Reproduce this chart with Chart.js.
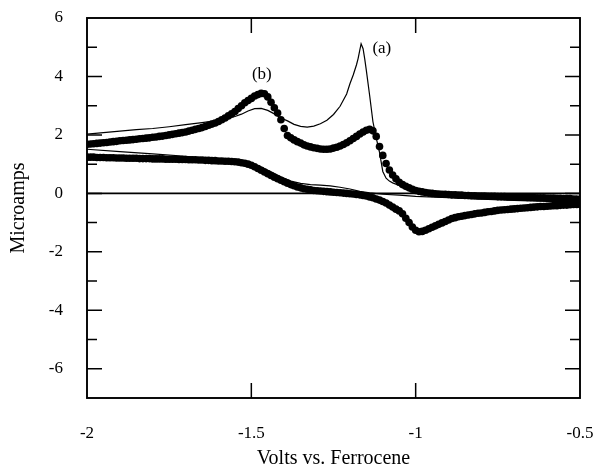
<!DOCTYPE html>
<html>
<head>
<meta charset="utf-8">
<script src="https://cdn.jsdelivr.net/npm/chart.js@4/dist/chart.umd.min.js"></script>
<style>
html,body{margin:0;padding:0;background:#fff;}
#wrap{width:596px;height:468px;position:relative;}
</style>
</head>
<body>
<div id="wrap"><canvas id="c"></canvas></div>
<script>
// ---- Data ----
const volts = [-2.00,-1.99,-1.98,-1.97,-1.96,-1.95,-1.94,-1.93,-1.92,-1.91,-1.90,-1.89,-1.88,-1.87,-1.86,-1.85,-1.84,-1.83,-1.82,-1.81,
-1.80,-1.79,-1.78,-1.77,-1.76,-1.75,-1.74,-1.73,-1.72,-1.71,-1.70,-1.69,-1.68,-1.67,-1.66,-1.65,-1.64,-1.63,-1.62,-1.61,
-1.60,-1.59,-1.58,-1.57,-1.56,-1.55,-1.54,-1.53,-1.52,-1.51,-1.50,-1.49,-1.48,-1.47,-1.46,-1.45,-1.44,-1.43,-1.42,-1.41,
-1.40,-1.39,-1.38,-1.37,-1.36,-1.35,-1.34,-1.33,-1.32,-1.31,-1.30,-1.29,-1.28,-1.27,-1.26,-1.25,-1.24,-1.23,-1.22,-1.21,
-1.20,-1.19,-1.18,-1.17,-1.16,-1.15,-1.14,-1.13,-1.12,-1.11,-1.10,-1.09,-1.08,-1.07,-1.06,-1.05,-1.04,-1.03,-1.02,-1.01,
-1.00,-0.99,-0.98,-0.97,-0.96,-0.95,-0.94,-0.93,-0.92,-0.91,-0.90,-0.89,-0.88,-0.87,-0.86,-0.85,-0.84,-0.83,-0.82,-0.81,
-0.80,-0.79,-0.78,-0.77,-0.76,-0.75,-0.74,-0.73,-0.72,-0.71,-0.70,-0.69,-0.68,-0.67,-0.66,-0.65,-0.64,-0.63,-0.62,-0.61,
-0.60,-0.59,-0.58,-0.57,-0.56,-0.55,-0.54,-0.53,-0.52,-0.51,-0.50];

// (b) experimental, forward (upper) branch
const bUpper = [1.68,1.69,1.70,1.71,1.72,1.73,1.74,1.76,1.77,1.78,1.80,1.81,1.82,1.83,1.84,1.85,1.87,1.88,1.89,1.90,
1.92,1.93,1.95,1.96,1.98,2.00,2.02,2.04,2.06,2.08,2.10,2.13,2.16,2.19,2.22,2.25,2.29,2.33,2.37,2.41,
2.46,2.52,2.58,2.65,2.72,2.80,2.90,3.00,3.10,3.18,3.25,3.33,3.38,3.42,3.41,3.30,3.12,2.93,2.75,2.52,
2.22,1.98,1.90,1.83,1.77,1.72,1.66,1.62,1.59,1.56,1.54,1.52,1.51,1.51,1.52,1.55,1.58,1.62,1.67,1.73,
1.80,1.88,1.95,2.03,2.10,2.16,2.19,2.14,1.95,1.60,1.30,1.02,0.80,0.63,0.50,0.38,0.30,0.24,0.19,0.14,
0.10,0.07,0.05,0.03,0.01,0.00,-0.01,-0.02,-0.03,-0.03,-0.04,-0.05,-0.05,-0.06,-0.06,-0.07,-0.07,-0.08,-0.08,-0.09,
-0.09,-0.09,-0.10,-0.10,-0.10,-0.11,-0.11,-0.11,-0.12,-0.12,-0.12,-0.13,-0.13,-0.13,-0.14,-0.14,-0.14,-0.15,-0.15,-0.15,
-0.16,-0.16,-0.16,-0.17,-0.17,-0.18,-0.18,-0.18,-0.19,-0.19,-0.20];

// (b) experimental, return (lower) branch
const bLower = [1.24,1.24,1.24,1.23,1.23,1.23,1.22,1.22,1.22,1.21,1.21,1.21,1.20,1.20,1.20,1.20,1.19,1.19,1.19,1.19,
1.18,1.18,1.18,1.18,1.17,1.17,1.17,1.17,1.16,1.16,1.16,1.15,1.15,1.15,1.14,1.14,1.13,1.13,1.12,1.12,
1.11,1.11,1.10,1.10,1.09,1.08,1.07,1.05,1.03,1.00,0.96,0.91,0.85,0.79,0.73,0.67,0.61,0.55,0.50,0.45,
0.40,0.35,0.30,0.26,0.22,0.19,0.16,0.14,0.12,0.10,0.09,0.08,0.07,0.06,0.05,0.04,0.03,0.02,0.01,0.00,
-0.01,-0.02,-0.04,-0.05,-0.07,-0.09,-0.12,-0.15,-0.19,-0.23,-0.28,-0.33,-0.40,-0.47,-0.54,-0.60,-0.70,-0.85,-1.00,-1.15,
-1.26,-1.31,-1.30,-1.26,-1.21,-1.16,-1.11,-1.06,-1.01,-0.96,-0.91,-0.86,-0.83,-0.80,-0.78,-0.76,-0.74,-0.72,-0.70,-0.68,
-0.67,-0.65,-0.63,-0.62,-0.60,-0.58,-0.57,-0.56,-0.55,-0.54,-0.53,-0.52,-0.51,-0.50,-0.49,-0.48,-0.47,-0.46,-0.45,-0.45,
-0.44,-0.43,-0.42,-0.42,-0.41,-0.40,-0.40,-0.39,-0.38,-0.38,-0.37];

// (a) thin curve, forward branch
const aUpperV = [-2.00,-1.95,-1.90,-1.85,-1.80,-1.75,-1.70,-1.65,-1.60,-1.57,-1.55,-1.53,-1.51,-1.49,-1.47,-1.45,-1.43,-1.41,-1.39,-1.37,
-1.35,-1.33,-1.31,-1.29,-1.27,-1.25,-1.23,-1.21,-1.20,-1.19,-1.18,-1.175,-1.17,-1.166,-1.16,-1.155,-1.15,-1.14,-1.13,-1.12,
-1.11,-1.10,-1.09,-1.08,-1.07,-1.05,-1.03,-1.01,-0.99,-0.95,-0.90,-0.80,-0.70,-0.60,-0.50];
const aUpperI = [2.03,2.08,2.13,2.18,2.22,2.28,2.35,2.42,2.50,2.57,2.63,2.71,2.82,2.90,2.91,2.84,2.72,2.58,2.48,2.36,
2.29,2.27,2.30,2.38,2.50,2.70,2.98,3.40,3.75,4.05,4.40,4.62,4.90,5.12,4.95,4.60,4.20,3.35,2.45,1.90,
1.40,0.75,0.52,0.42,0.36,0.27,0.20,0.12,0.06,0.01,-0.02,-0.06,-0.09,-0.12,-0.15];

// (a) thin curve, return branch
const aLowerV = [-2.00,-1.90,-1.80,-1.70,-1.65,-1.60,-1.55,-1.50,-1.47,-1.44,-1.41,-1.38,-1.35,-1.32,-1.29,-1.26,-1.23,-1.20,-1.17,-1.14,
-1.10,-1.05,-1.00,-0.90,-0.80,-0.70,-0.60,-0.50];
const aLowerI = [1.51,1.43,1.35,1.27,1.21,1.15,1.10,1.02,0.90,0.74,0.57,0.42,0.34,0.30,0.28,0.26,0.21,0.15,0.07,0.02,
-0.03,-0.06,-0.10,-0.15,-0.20,-0.24,-0.27,-0.30];

const xTicks = [-2, -1.5, -1, -0.5];
const yTicks = [-6, -4, -2, 0, 2, 4, 6];
const yMinorTicks = [-5, -3, -1, 1, 3, 5];
const curveLabels = [{text: '(a)', x: -1.103, y: 4.94}, {text: '(b)', x: -1.468, y: 4.05}];

// ---- Build datasets ----
const pts = (xs, ys) => xs.map((x, i) => ({x: x, y: ys[i]}));

const FONT = 'Liberation Serif';

const framePlugin = {
  id: 'frame',
  beforeDatasetsDraw(chart) {
    const {ctx, chartArea: a, scales: {x, y}} = chart;
    ctx.save();
    ctx.strokeStyle = '#000';
    ctx.lineWidth = 1.6;
    const y0 = y.getPixelForValue(0);
    ctx.beginPath();
    ctx.moveTo(a.left, y0); ctx.lineTo(a.right, y0);
    ctx.stroke();
    ctx.restore();
  },
  afterDatasetsDraw(chart) {
    const {ctx, chartArea: a, scales: {x, y}} = chart;
    ctx.save();
    ctx.strokeStyle = '#000';
    ctx.lineWidth = 1.9;
    ctx.strokeRect(a.left, a.top, a.right - a.left, a.bottom - a.top);
    ctx.lineWidth = 1.5;
    ctx.beginPath();
    const major = 15, minor = 10;
    yTicks.forEach(v => {
      const py = y.getPixelForValue(v);
      if (py <= a.top + 1 || py >= a.bottom - 1) return;
      ctx.moveTo(a.left, py); ctx.lineTo(a.left + major, py);
      ctx.moveTo(a.right, py); ctx.lineTo(a.right - major, py);
    });
    yMinorTicks.forEach(v => {
      const py = y.getPixelForValue(v);
      ctx.moveTo(a.left, py); ctx.lineTo(a.left + minor, py);
      ctx.moveTo(a.right, py); ctx.lineTo(a.right - minor, py);
    });
    xTicks.forEach(v => {
      const px = x.getPixelForValue(v);
      if (px <= a.left + 1 || px >= a.right - 1) return;
      ctx.moveTo(px, a.top); ctx.lineTo(px, a.top + major);
      ctx.moveTo(px, a.bottom); ctx.lineTo(px, a.bottom - major);
    });
    ctx.stroke();
    ctx.fillStyle = '#000';
    ctx.font = '17px "' + FONT + '"';
    ctx.textAlign = 'center';
    ctx.textBaseline = 'middle';
    curveLabels.forEach(l => {
      ctx.fillText(l.text, x.getPixelForValue(l.x), y.getPixelForValue(l.y));
    });
    ctx.restore();
  }
};

new Chart(document.getElementById('c'), {
  type: 'scatter',
  data: {
    datasets: [
      {label: '(a) forward', data: pts(aUpperV, aUpperI), showLine: true, borderColor: '#000', borderWidth: 1.2, pointRadius: 0, fill: false, tension: 0},
      {label: '(a) return', data: pts(aLowerV, aLowerI), showLine: true, borderColor: '#000', borderWidth: 1.2, pointRadius: 0, fill: false, tension: 0},
      {label: '(b) forward', data: pts(volts, bUpper), showLine: false, pointRadius: 3.8, pointBackgroundColor: '#000', pointBorderColor: '#000', pointBorderWidth: 0},
      {label: '(b) return', data: pts(volts, bLower), showLine: false, pointRadius: 3.8, pointBackgroundColor: '#000', pointBorderColor: '#000', pointBorderWidth: 0}
    ]
  },
  options: {
    responsive: true,
    maintainAspectRatio: false,
    animation: false,
    layout: {padding: {top: 18, right: 16, left: 0, bottom: 0}},
    plugins: {legend: {display: false}, tooltip: {enabled: false}},
    scales: {
      x: {
        type: 'linear', min: -2, max: -0.5,
        grid: {display: false, drawTicks: false},
        border: {display: false},
        afterFit: s => { s.height = 70; s.paddingLeft = 0; s.paddingRight = 0; s.paddingTop = 0; s.paddingBottom = 0; },
        afterBuildTicks: s => { s.ticks = xTicks.map(v => ({value: v})); },
        ticks: {color: '#000', padding: 25, font: {family: FONT, size: 17}, callback: v => String(v), maxRotation: 0},
        title: {display: true, text: 'Volts vs. Ferrocene', color: '#000', font: {family: FONT, size: 20}, padding: {top: 0, bottom: -3}}
      },
      y: {
        type: 'linear', min: -7, max: 6,
        grid: {display: false, drawTicks: false},
        border: {display: false},
        afterFit: s => { s.width = 87; s.paddingLeft = 0; s.paddingRight = 0; s.paddingTop = 0; s.paddingBottom = 0; },
        afterBuildTicks: s => { s.ticks = yTicks.map(v => ({value: v})); },
        ticks: {color: '#000', padding: 24, font: {family: FONT, size: 17}, callback: v => String(v)},
        title: {display: true, text: 'Microamps', color: '#000', font: {family: FONT, size: 20}, padding: {top: 7, bottom: 0}}
      }
    }
  },
  plugins: [framePlugin]
});
</script>
</body>
</html>
